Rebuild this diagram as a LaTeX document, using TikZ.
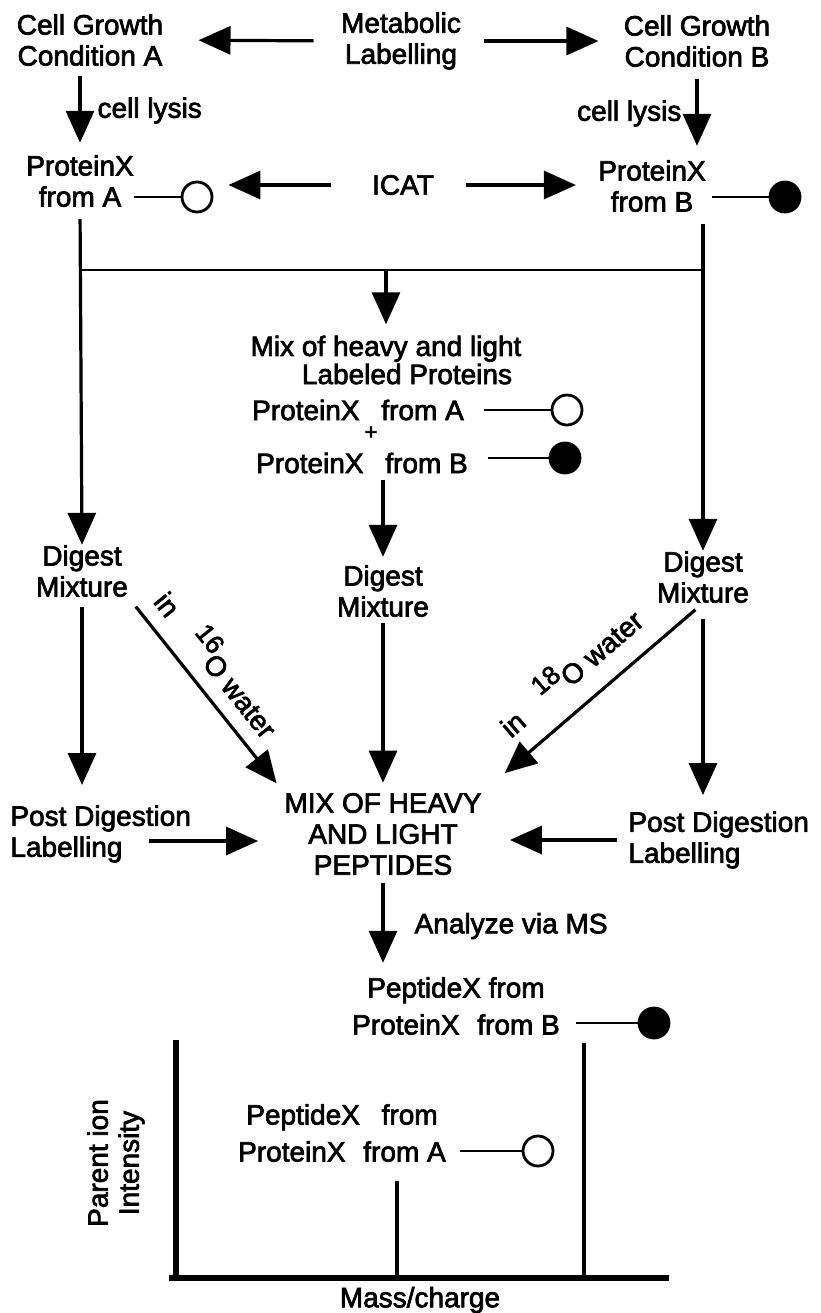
\documentclass[tikz,border=0pt]{standalone}
\usepackage{fontspec}
\newfontfamily\flowfont[FakeBold=2.5]{Liberation Sans}
\usetikzlibrary{arrows.meta}
\newcommand{\isotope}[1]{\raisebox{0.9ex}{\fontsize{13}{13}\selectfont #1}}
\tikzset{
  box text/.style={font=\flowfont\fontsize{14}{15.5}\selectfont, align=center, inner sep=0pt},
  flow arrow/.style={line width=1.6pt, -{Triangle[length=16pt,width=14pt]}},
  tag line/.style={line width=1.3pt},
  join line/.style={line width=1.2pt},
  open ball/.style={circle, draw, line width=1.4pt, minimum size=15pt, inner sep=0pt, fill=white},
  full ball/.style={open ball, fill=black},
  axis line/.style={line width=2.6pt},
  peak line/.style={line width=2pt}
}

\begin{document}
\begin{tikzpicture}[x=0.5pt,y=-0.5pt]
  \useasboundingbox[fill=white] (0,0) rectangle (820,1313);
  \node[box text] (condA) at (90,40) {Cell Growth\\Condition A};
  \node[box text] (met) at (401,41) {Metabolic\\Labelling};
  \node[box text] (condB) at (697,41) {Cell Growth\\Condition B};
  \node[box text] (protA) at (80,181) {ProteinX\\from A};
  \node[box text] (icat) at (403,185) {ICAT};
  \node[box text] (protB) at (652,186) {ProteinX\\from B};
  \node[open ball] (ballA) at (197,197) {};
  \node[full ball] (ballB) at (785,197) {};
  \coordinate (join) at (386,270);
  \node[box text, font=\flowfont\fontsize{14}{13}\selectfont] (mixP) at (386,360) {Mix of heavy and light\\\hspace*{1.5em}Labeled Proteins};
  \node[box text] (mixA) at (358,410) {ProteinX\hspace{7pt} from A};
  \node[box text, font=\flowfont\fontsize{11}{11}\selectfont] (plus) at (371,433) {+};
  \node[box text] (mixB) at (362,463) {ProteinX\hspace{7pt} from B};
  \node[open ball] (ballA2) at (567,410) {};
  \node[full ball] (ballB2) at (565,458) {};
  \node[box text] (dgA) at (82,571) {Digest\\Mixture};
  \node[box text] (dgM) at (383,591) {Digest\\Mixture};
  \node[box text] (dgB) at (703,577) {Digest\\Mixture};
  \node[box text] (mixPep) at (383,834) {MIX OF HEAVY\\AND LIGHT\\PEPTIDES};
  \node[box text, align=left, anchor=west] (postA) at (10,834) {Post Digestion\\Labelling};
  \node[box text, align=left, anchor=west] (postB) at (628,840) {Post Digestion\\Labelling};
  \coordinate (tailA) at (149,841);
  \node[box text] (pepB) at (456,1006) {PeptideX from\\[3pt]ProteinX\hspace{5pt} from B};
  \node[full ball] (ballB3) at (654,1023) {};
  \node[box text] (pepA) at (342,1133) {PeptideX\hspace{7pt} from\\[3pt]ProteinX\hspace{5pt} from A};
  \node[open ball] (ballA3) at (538,1151) {};
  \node[box text, rotate=90] (ylab) at (116,1163) {Parent ion\\Intensity};
  \node[box text] (mass) at (420,1300) {Mass/charge};

  \draw[flow arrow, shorten <=13.5pt, shorten >=17.5pt] (met.west) -- (condA.east);
  \draw[flow arrow, shorten <=11.5pt, shorten >=12.5pt] (met.east) -- (condB.west);
  \draw[flow arrow, shorten <=5pt, shorten >=6pt] (protA.north |- condA.south) -- node[box text, right=8pt] {cell lysis} (protA.north);
  \draw[flow arrow, shorten <=6pt, shorten >=7pt] (condB.south) -- node[box text, left=7pt] {cell lysis} (condB.south |- protB.north);
  \draw[flow arrow, shorten <=20.5pt, shorten >=7.5pt] (icat.west) -- (icat.west -| ballA.east);
  \draw[flow arrow, shorten <=16pt, shorten >=11pt] (icat.east) -- (icat.east -| protB.west);
  \draw[tag line] (ballA -| protA.east) -- (ballA);
  \draw[tag line, shorten <=3pt] (ballB -| protB.east) -- (ballB);
  \draw[join line] (protA.south |- join) -- (dgB.north |- join);
  \draw[flow arrow, shorten <=6pt] (protA.south) -- (dgA.north);
  \draw[flow arrow, shorten <=6pt] (dgB.north |- protB.south) -- (dgB.north);
  \draw[flow arrow, shorten >=5.5pt] (join) -- (mixP.north);
  \draw[tag line, shorten <=10pt] (ballA2 -| mixA.east) -- (ballA2);
  \draw[tag line, shorten <=10pt] (ballB2 -| mixB.east) -- (ballB2);
  \draw[flow arrow, shorten <=3pt, shorten >=4pt] (dgM.north |- mixB.south) -- (dgM.north);
  \draw[flow arrow, shorten <=5pt, shorten >=10pt] (dgA.south) -- (dgA.south |- postA.north);
  \draw[flow arrow, shorten <=6pt, shorten >=6pt] (dgA.south east) -- node[box text, pos=0.43, above=7pt, sloped] {in\quad\isotope{16}O water} (mixPep.north west);
  \draw[flow arrow, shorten <=3pt, shorten >=5pt] (dgM.south) -- (mixPep.north);
  \draw[flow arrow, shorten <=5pt, shorten >=15pt] (dgB.south) -- node[box text, pos=0.5, above=10pt, sloped] {in\quad\isotope{18}O water} (mixPep.north east);
  \draw[flow arrow, shorten <=8pt, shorten >=8pt] (dgB.south) -- (dgB.south |- postB.north);
  \draw[flow arrow, shorten >=13pt] (tailA) -- (tailA -| mixPep.west);
  \draw[flow arrow, shorten <=5.5pt, shorten >=14pt] (postB.west) -- (postB.west -| mixPep.east);
  \draw[flow arrow, shorten <=4pt, shorten >=7pt] (mixPep.south) -- node[box text, right=15pt] {Analyze via MS} (mixPep.south |- pepB.north);
  \draw[tag line, shorten <=8pt] (ballB3 -| pepB.east) -- (ballB3);
  \draw[tag line, shorten <=7pt] (ballA3 -| pepA.east) -- (ballA3);

  \draw[axis line] (176,1040) -- (176,1278);
  \draw[axis line] (169,1278) -- (669,1278);
  \draw[peak line] (584,1043) -- (584,1278);
  \draw[peak line] (397,1181) -- (397,1278);
\end{tikzpicture}
\end{document}
